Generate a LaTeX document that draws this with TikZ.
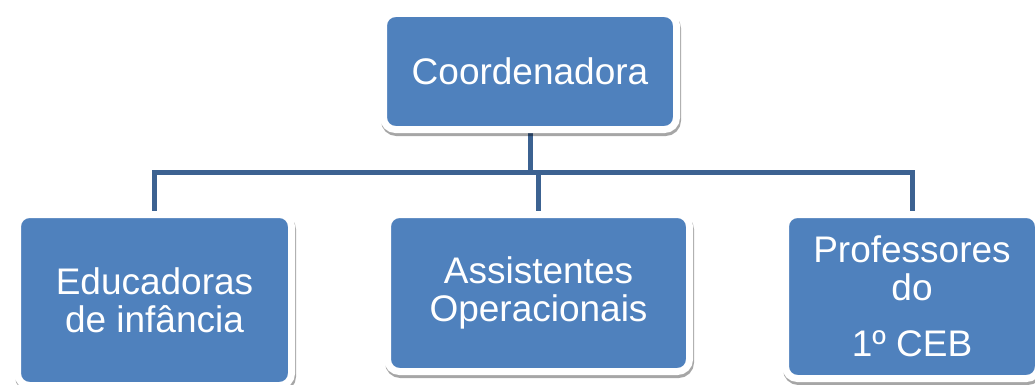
\documentclass[tikz,border=0pt]{standalone}
\usepackage{fontspec}
\setmainfont{Liberation Sans}
\usetikzlibrary{shadows,backgrounds}
\definecolor{boxblue}{RGB}{79,129,189}
\definecolor{linkblue}{RGB}{60,98,145}

\begin{document}
\begin{tikzpicture}[x=1pt,y=-1pt,
	unit/.style={rectangle,rounded corners=12pt,fill=boxblue,draw=white,line width=7pt,
		text=white,align=center,inner sep=0pt,outer sep=0pt,font=\fontsize{37}{38}\selectfont,
		drop shadow={shadow xshift=1pt,shadow yshift=-3pt,opacity=0.35,fill=black,draw=black,line width=7pt}},
	link/.style={draw=linkblue,line width=5pt,line join=miter}]
		\useasboundingbox (0,0) rectangle (1035,385);
		\node[unit,minimum width=293pt,minimum height=116pt] (coord) at (530,71.5) {Coordenadora};
		\node[unit,minimum width=274pt,minimum height=171pt] (educ) at (154.5,300) {Educadoras\\de infância};
		\node[unit,minimum width=302pt,minimum height=157pt] (assist) at (538.5,293) {Assistentes\\Operacionais};
		\node[unit,minimum width=253pt,minimum height=164pt] (prof) at (912,296.5) {Professores\\do\\[18pt]1º CEB};
		\coordinate (bus) at (0,172);
		\begin{scope}[on background layer]
			\draw[link] (coord.south) -- (coord.south |- bus);
			\draw[link] (educ.north) -- (educ.north |- bus) -- (prof.north |- bus) -- (prof.north);
			\draw[link] (assist.north) -- (assist.north |- bus);
		\end{scope}
\end{tikzpicture}
\end{document}
